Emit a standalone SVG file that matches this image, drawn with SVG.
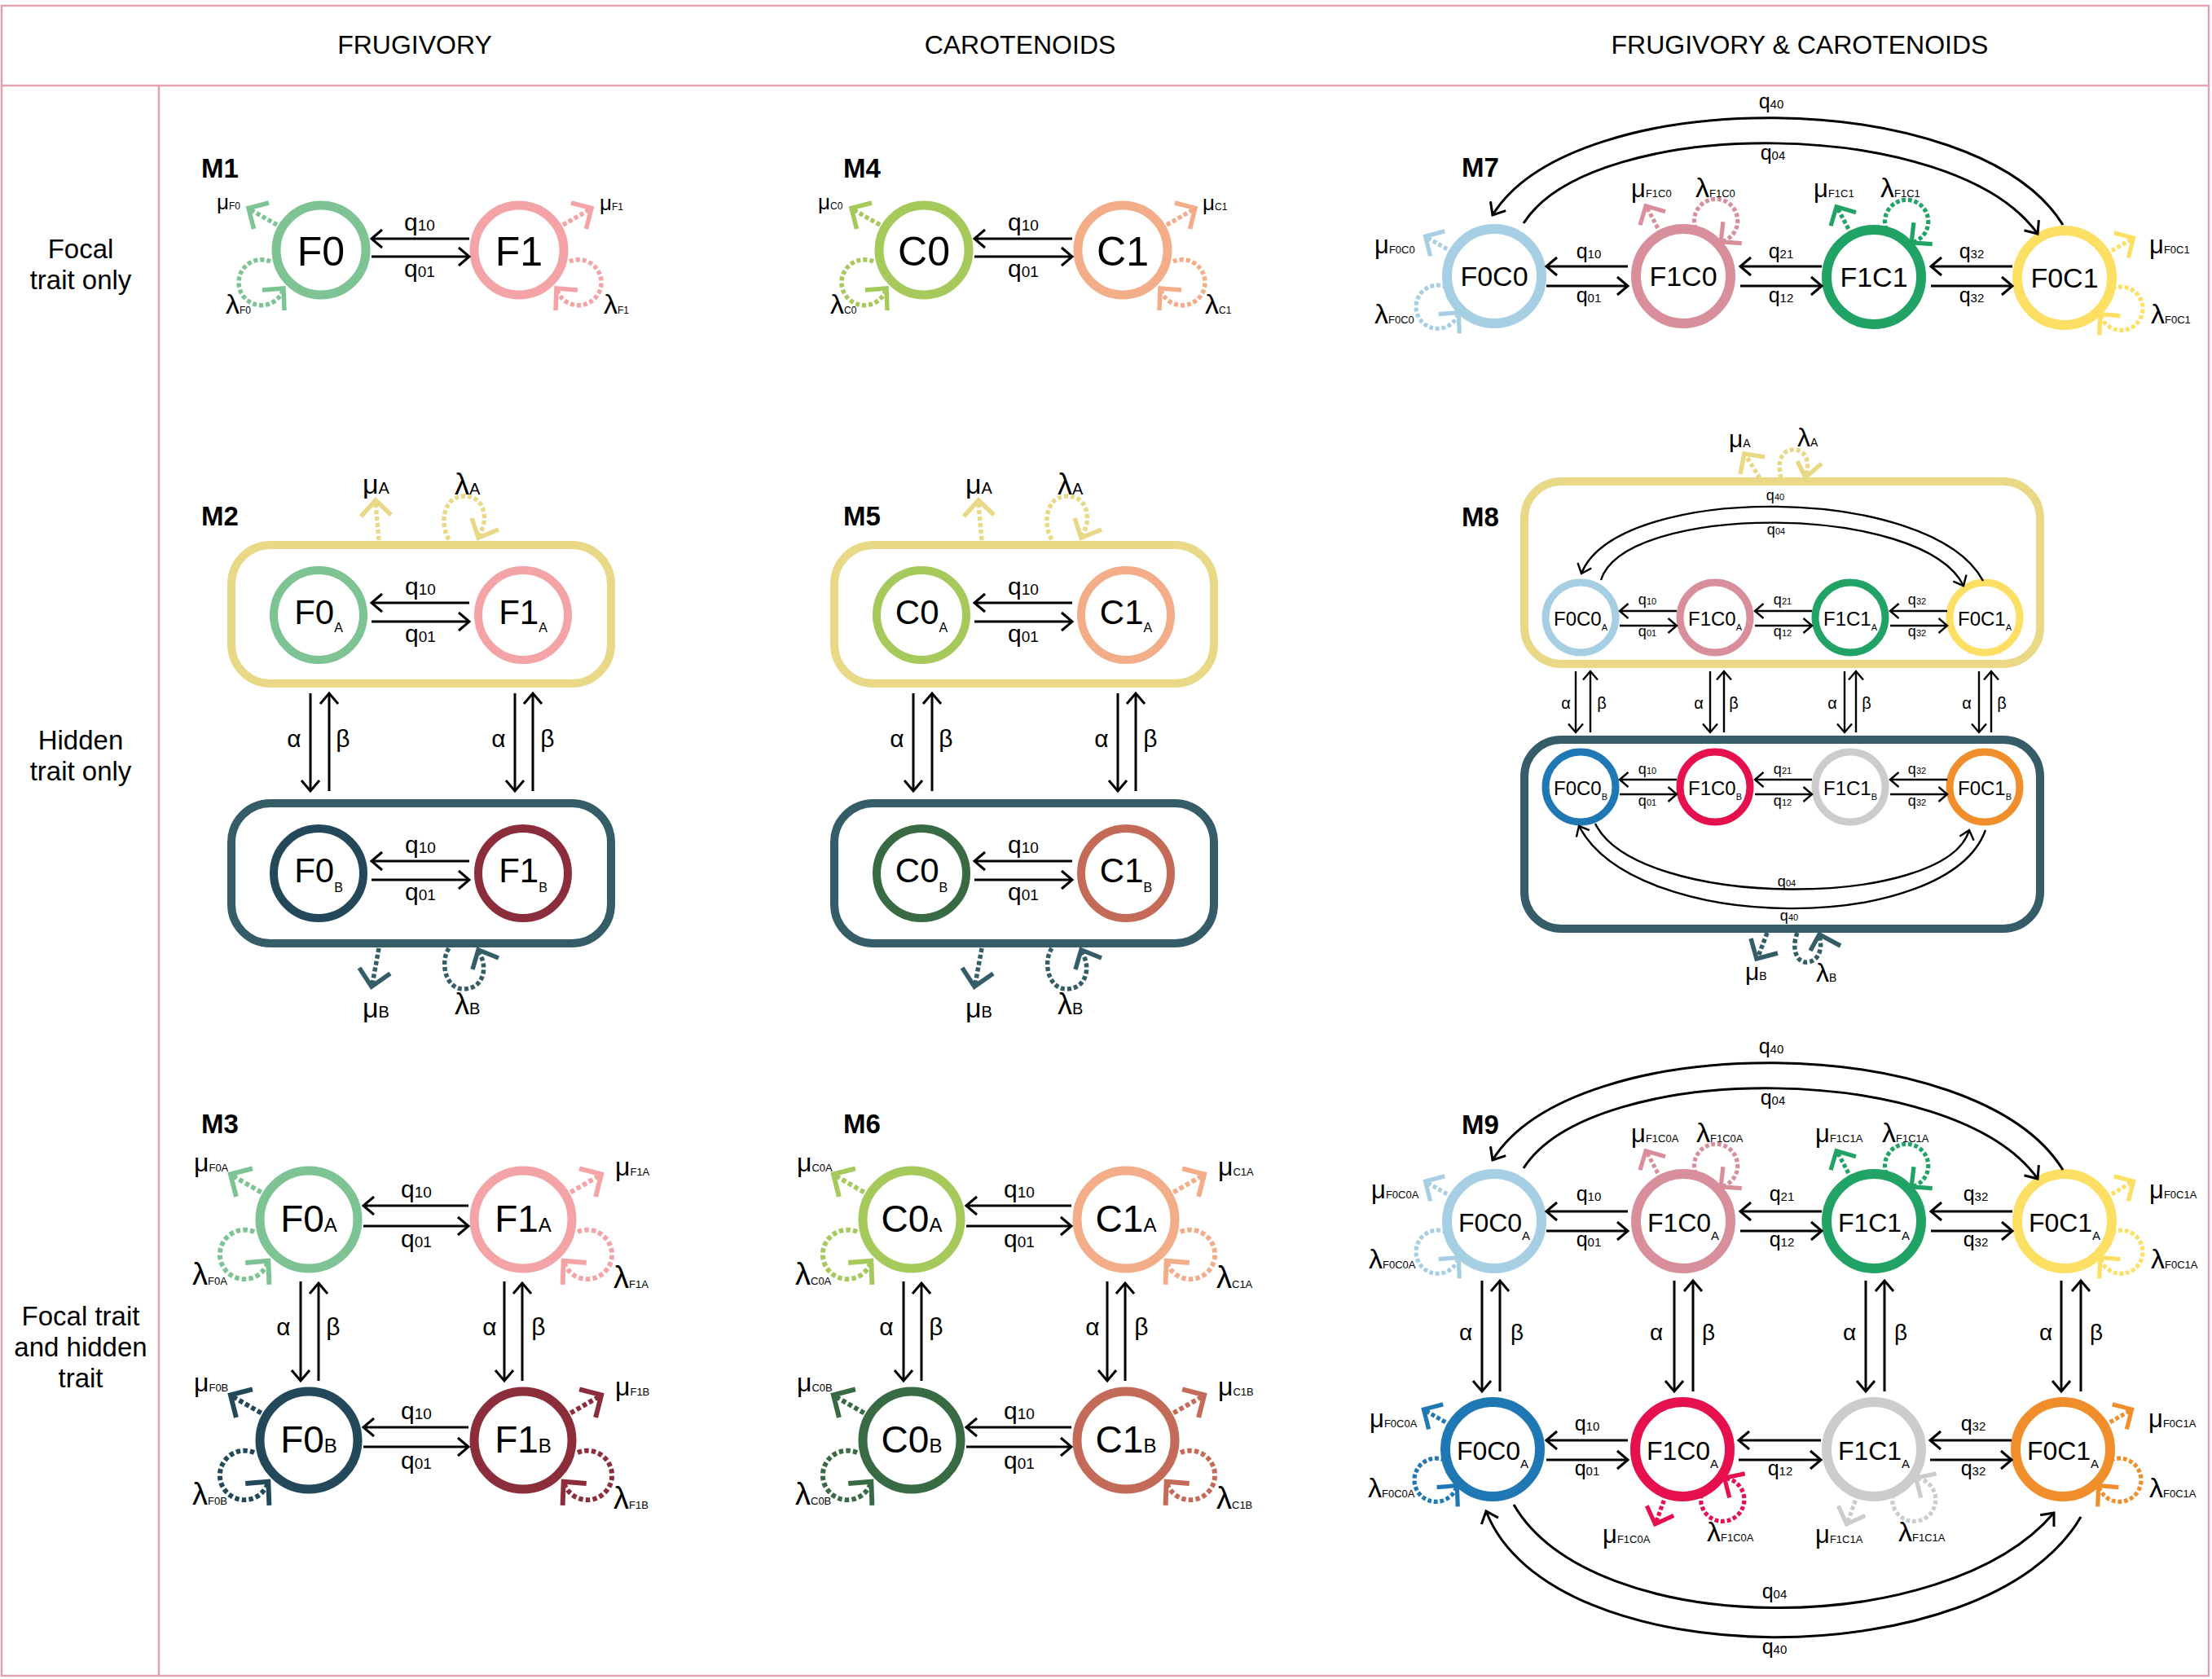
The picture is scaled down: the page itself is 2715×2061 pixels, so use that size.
<svg xmlns="http://www.w3.org/2000/svg" width="2715" height="2061" viewBox="0 0 2715 2061">
<style>
text{font-family:"Liberation Sans",Arial,sans-serif;fill:#000}
.hdr{font-size:32px;text-anchor:middle}
.row{font-size:33px;text-anchor:middle}
.ml{font-size:33px;font-weight:bold}
.frame{fill:none;stroke:#e3a0ae;stroke-width:2.5}
.nd{fill:#fff}
.ar{fill:none;stroke:#000;stroke-width:3;marker-end:url(#ah)}
.arS{fill:none;stroke:#000;stroke-width:2.4;marker-end:url(#ahS)}
.dsh{fill:none;stroke-width:5.5;stroke-dasharray:5 3}
.chv{fill:none;stroke-width:5.5}
.q{font-size:30px;text-anchor:middle}.qs{font-size:19px}
.q7{font-size:25px;text-anchor:middle}.qs7{font-size:15px}
.q8{font-size:18px;text-anchor:middle}.qs8{font-size:11px}
.ab{font-size:30px;text-anchor:middle}
.ab9{font-size:28px;text-anchor:middle}
.ab8{font-size:20px;text-anchor:middle}
.n1{font-size:50px;text-anchor:middle}
.n2{font-size:42px;text-anchor:middle}.sb2{font-size:16px}
.n3{font-size:46px;text-anchor:middle}.sb3{font-size:24px}
.n7{font-size:34px;text-anchor:middle}
.n9{font-size:32px;text-anchor:middle}.sb9{font-size:15px}
.n8{font-size:24px;text-anchor:middle}.sb8{font-size:11px}
.mu1{font-size:26px}.la1{font-size:34px}.s1{font-size:12px}
.mu3{font-size:32px}.la3{font-size:38px}.s3{font-size:13px}
.mu7{font-size:31px}.la7{font-size:34px}.s7{font-size:13px}
.mu2{font-size:34px}.la2{font-size:36px}.s2{font-size:20px}
.mu8{font-size:30px}.la8{font-size:32px}.s8{font-size:14px}
</style>
<defs>
<marker id="ah" viewBox="0 0 20 24" refX="18" refY="12" markerWidth="20" markerHeight="24" markerUnits="userSpaceOnUse" orient="auto" overflow="visible"><path d="M5,1 L18,12 L5,23" fill="none" stroke="#000" stroke-width="3"/></marker>
<marker id="ahS" viewBox="0 0 14 20" refX="12.5" refY="10" markerWidth="14" markerHeight="20" markerUnits="userSpaceOnUse" orient="auto" overflow="visible"><path d="M2,1 L12.5,10 L2,19" fill="none" stroke="#000" stroke-width="2.4"/></marker>
<g id="decoR" fill="none" stroke="currentColor" stroke-width="5.5">
<path d="M54,-31 L87,-50" stroke-dasharray="5 3"/>
<path d="M64,-58 L89,-51.5 L82.5,-26"/>
<path d="M62,14 A28,28 0 1 1 46,47" stroke-dasharray="5 3"/>
<path d="M72,49 L46,47 L45,74"/>
</g>
</defs>

<g id="frame">
<rect x="2" y="7" width="2709" height="2050" class="frame"/>
<line x1="2" y1="105" x2="2711" y2="105" class="frame"/>
<line x1="195" y1="105" x2="195" y2="2057" class="frame"/>
</g>

<g id="headers">
<text class="hdr" x="509" y="66">FRUGIVORY</text>
<text class="hdr" x="1252" y="66">CAROTENOIDS</text>
<text class="hdr" x="2209" y="66">FRUGIVORY &amp; CAROTENOIDS</text>
<text class="row" x="99" y="317">Focal</text>
<text class="row" x="99" y="355">trait only</text>
<text class="row" x="99" y="920">Hidden</text>
<text class="row" x="99" y="958">trait only</text>
<text class="row" x="99" y="1627">Focal trait</text>
<text class="row" x="99" y="1665">and hidden</text>
<text class="row" x="99" y="1703">trait</text>
</g>

<g id="model-labels">
<text class="ml" x="247" y="218">M1</text>
<text class="ml" x="1035" y="218">M4</text>
<text class="ml" x="1794" y="217">M7</text>
<text class="ml" x="247" y="645">M2</text>
<text class="ml" x="1035" y="645">M5</text>
<text class="ml" x="1794" y="646">M8</text>
<text class="ml" x="247" y="1391">M3</text>
<text class="ml" x="1035" y="1391">M6</text>
<text class="ml" x="1794" y="1392">M9</text>
</g>

<!-- M1 -->
<g id="m1-F0" transform="translate(394,307)">
<use href="#decoR" transform="scale(-1,1)" color="#7dc393"/>
<circle r="55" class="nd" stroke="#7dc393" stroke-width="11"/>
<text y="19" class="n1">F0</text>
<text x="-128" y="-50" class="mu1">μ<tspan class="s1">F0</tspan></text>
<text x="-117" y="78" class="la1">λ<tspan class="s1">F0</tspan></text>
</g>
<g id="m1-F1" transform="translate(637,307)">
<use href="#decoR" color="#f4a3a6"/>
<circle r="55" class="nd" stroke="#f4a3a6" stroke-width="11"/>
<text y="19" class="n1">F1</text>
<text x="99" y="-49" class="mu1">μ<tspan class="s1">F1</tspan></text>
<text x="104" y="78" class="la1">λ<tspan class="s1">F1</tspan></text>
</g>

<!-- M4 -->
<g id="m4-C0" transform="translate(1134,307)">
<use href="#decoR" transform="scale(-1,1)" color="#a5c95a"/>
<circle r="55" class="nd" stroke="#a5c95a" stroke-width="11"/>
<text y="19" class="n1">C0</text>
<text x="-130" y="-50" class="mu1">μ<tspan class="s1">C0</tspan></text>
<text x="-115" y="78" class="la1">λ<tspan class="s1">C0</tspan></text>
</g>
<g id="m4-C1" transform="translate(1378,307)">
<use href="#decoR" color="#f3ad88"/>
<circle r="55" class="nd" stroke="#f3ad88" stroke-width="11"/>
<text y="19" class="n1">C1</text>
<text x="98" y="-49" class="mu1">μ<tspan class="s1">C1</tspan></text>
<text x="101" y="78" class="la1">λ<tspan class="s1">C1</tspan></text>
</g>

<!-- M2 -->
<g id="m2-hiddenA">
<rect x="284" y="669" width="466" height="170" rx="48" fill="none" stroke="#e9d886" stroke-width="10"/>
<path class="dsh" stroke="#e9d886" d="M465,663 L461,618"/>
<path class="chv" stroke="#e9d886" d="M443,634 L461,614 L480,632"/>
<path class="dsh" stroke="#e9d886" d="M551,662 C541,648 541,610 569,609 C597,608 600,642 587,658"/>
<path class="chv" stroke="#e9d886" d="M579,636 L587,660 L612,650"/>
<text x="445" y="606" class="mu2">μ<tspan class="s2">A</tspan></text>
<text x="558" y="607" class="la2">λ<tspan class="s2">A</tspan></text>
</g>
<g id="m2-hiddenB">
<rect x="284" y="986" width="466" height="172" rx="48" fill="none" stroke="#355d68" stroke-width="10"/>
<path class="dsh" stroke="#355d68" d="M465,1164 L457,1208"/>
<path class="chv" stroke="#355d68" d="M441,1188 L456,1211 L479,1195"/>
<path class="dsh" stroke="#355d68" d="M551,1164 C540,1180 546,1214 569,1214 C594,1214 600,1186 587,1168"/>
<path class="chv" stroke="#355d68" d="M580,1190 L587,1166 L612,1176"/>
<text x="445" y="1249" class="mu2">μ<tspan class="s2">B</tspan></text>
<text x="558" y="1245" class="la2">λ<tspan class="s2">B</tspan></text>
</g>
<g id="m2-F0A" transform="translate(391,755)">
<circle r="55" class="nd" stroke="#7dc393" stroke-width="10"/>
<text y="11" class="n2">F0<tspan class="sb2" dy="10">A</tspan></text>
</g>
<g id="m2-F1A" transform="translate(642,755)">
<circle r="55" class="nd" stroke="#f4a3a6" stroke-width="10"/>
<text y="11" class="n2">F1<tspan class="sb2" dy="10">A</tspan></text>
</g>
<g id="m2-F0B" transform="translate(391,1072)">
<circle r="55" class="nd" stroke="#23485a" stroke-width="10"/>
<text y="11" class="n2">F0<tspan class="sb2" dy="12">B</tspan></text>
</g>
<g id="m2-F1B" transform="translate(642,1072)">
<circle r="55" class="nd" stroke="#8c2d3b" stroke-width="10"/>
<text y="11" class="n2">F1<tspan class="sb2" dy="12">B</tspan></text>
</g>

<!-- M5 -->
<g id="m5-hiddenA">
<rect x="1024" y="669" width="466" height="170" rx="48" fill="none" stroke="#e9d886" stroke-width="10"/>
<path class="dsh" stroke="#e9d886" d="M1205,663 L1201,618"/>
<path class="chv" stroke="#e9d886" d="M1183,634 L1201,614 L1220,632"/>
<path class="dsh" stroke="#e9d886" d="M1291,662 C1281,648 1281,610 1309,609 C1337,608 1340,642 1327,658"/>
<path class="chv" stroke="#e9d886" d="M1319,636 L1327,660 L1352,650"/>
<text x="1185" y="606" class="mu2">μ<tspan class="s2">A</tspan></text>
<text x="1298" y="607" class="la2">λ<tspan class="s2">A</tspan></text>
</g>
<g id="m5-hiddenB">
<rect x="1024" y="986" width="466" height="172" rx="48" fill="none" stroke="#355d68" stroke-width="10"/>
<path class="dsh" stroke="#355d68" d="M1205,1164 L1197,1208"/>
<path class="chv" stroke="#355d68" d="M1181,1188 L1196,1211 L1219,1195"/>
<path class="dsh" stroke="#355d68" d="M1291,1164 C1280,1180 1286,1214 1309,1214 C1334,1214 1340,1186 1327,1168"/>
<path class="chv" stroke="#355d68" d="M1320,1190 L1327,1166 L1352,1176"/>
<text x="1185" y="1249" class="mu2">μ<tspan class="s2">B</tspan></text>
<text x="1298" y="1245" class="la2">λ<tspan class="s2">B</tspan></text>
</g>
<g id="m5-C0A" transform="translate(1131,755)">
<circle r="55" class="nd" stroke="#a5c95a" stroke-width="10"/>
<text y="11" class="n2">C0<tspan class="sb2" dy="10">A</tspan></text>
</g>
<g id="m5-C1A" transform="translate(1382,755)">
<circle r="55" class="nd" stroke="#f3ad88" stroke-width="10"/>
<text y="11" class="n2">C1<tspan class="sb2" dy="10">A</tspan></text>
</g>
<g id="m5-C0B" transform="translate(1131,1072)">
<circle r="55" class="nd" stroke="#386a43" stroke-width="10"/>
<text y="11" class="n2">C0<tspan class="sb2" dy="12">B</tspan></text>
</g>
<g id="m5-C1B" transform="translate(1382,1072)">
<circle r="55" class="nd" stroke="#c46a58" stroke-width="10"/>
<text y="11" class="n2">C1<tspan class="sb2" dy="12">B</tspan></text>
</g>

<!-- M3 -->
<g id="m3-F0A" transform="translate(379,1497)">
<use href="#decoR" transform="scale(-1.08,1.08)" color="#7dc393"/>
<circle r="60" class="nd" stroke="#7dc393" stroke-width="11"/>
<text y="15" class="n3">F0<tspan class="sb3">A</tspan></text>
<text x="-141" y="-59" class="mu3">μ<tspan class="s3">F0A</tspan></text>
<text x="-143" y="80" class="la3">λ<tspan class="s3">F0A</tspan></text>
</g>
<g id="m3-F1A" transform="translate(642,1497)">
<use href="#decoR" transform="scale(1.08)" color="#f4a3a6"/>
<circle r="60" class="nd" stroke="#f4a3a6" stroke-width="11"/>
<text y="15" class="n3">F1<tspan class="sb3">A</tspan></text>
<text x="113" y="-54" class="mu3">μ<tspan class="s3">F1A</tspan></text>
<text x="111" y="84" class="la3">λ<tspan class="s3">F1A</tspan></text>
</g>
<g id="m3-F0B" transform="translate(379,1768)">
<use href="#decoR" transform="scale(-1.08,1.08)" color="#23485a"/>
<circle r="60" class="nd" stroke="#23485a" stroke-width="11"/>
<text y="15" class="n3">F0<tspan class="sb3">B</tspan></text>
<text x="-141" y="-60" class="mu3">μ<tspan class="s3">F0B</tspan></text>
<text x="-143" y="79" class="la3">λ<tspan class="s3">F0B</tspan></text>
</g>
<g id="m3-F1B" transform="translate(642,1768)">
<use href="#decoR" transform="scale(1.08)" color="#8c2d3b"/>
<circle r="60" class="nd" stroke="#8c2d3b" stroke-width="11"/>
<text y="15" class="n3">F1<tspan class="sb3">B</tspan></text>
<text x="113" y="-55" class="mu3">μ<tspan class="s3">F1B</tspan></text>
<text x="111" y="84" class="la3">λ<tspan class="s3">F1B</tspan></text>
</g>

<!-- M6 -->
<g id="m6-C0A" transform="translate(1119,1497)">
<use href="#decoR" transform="scale(-1.08,1.08)" color="#a5c95a"/>
<circle r="60" class="nd" stroke="#a5c95a" stroke-width="11"/>
<text y="15" class="n3">C0<tspan class="sb3">A</tspan></text>
<text x="-141" y="-59" class="mu3">μ<tspan class="s3">C0A</tspan></text>
<text x="-143" y="80" class="la3">λ<tspan class="s3">C0A</tspan></text>
</g>
<g id="m6-C1A" transform="translate(1382,1497)">
<use href="#decoR" transform="scale(1.08)" color="#f3ad88"/>
<circle r="60" class="nd" stroke="#f3ad88" stroke-width="11"/>
<text y="15" class="n3">C1<tspan class="sb3">A</tspan></text>
<text x="113" y="-54" class="mu3">μ<tspan class="s3">C1A</tspan></text>
<text x="111" y="84" class="la3">λ<tspan class="s3">C1A</tspan></text>
</g>
<g id="m6-C0B" transform="translate(1119,1768)">
<use href="#decoR" transform="scale(-1.08,1.08)" color="#386a43"/>
<circle r="60" class="nd" stroke="#386a43" stroke-width="11"/>
<text y="15" class="n3">C0<tspan class="sb3">B</tspan></text>
<text x="-141" y="-60" class="mu3">μ<tspan class="s3">C0B</tspan></text>
<text x="-143" y="79" class="la3">λ<tspan class="s3">C0B</tspan></text>
</g>
<g id="m6-C1B" transform="translate(1382,1768)">
<use href="#decoR" transform="scale(1.08)" color="#c46a58"/>
<circle r="60" class="nd" stroke="#c46a58" stroke-width="11"/>
<text y="15" class="n3">C1<tspan class="sb3">B</tspan></text>
<text x="113" y="-55" class="mu3">μ<tspan class="s3">C1B</tspan></text>
<text x="111" y="84" class="la3">λ<tspan class="s3">C1B</tspan></text>
</g>

<!-- M7 -->
<g id="m7-F0C0" transform="translate(1834,339)">
<use href="#decoR" transform="scale(-0.95,0.95)" color="#a6cfe3"/>
<circle r="58" class="nd" stroke="#a6cfe3" stroke-width="12"/>
<text y="12" class="n7">F0C0</text>
<text x="-147" y="-28" class="mu7">μ<tspan class="s7">F0C0</tspan></text>
<text x="-147" y="58" class="la7">λ<tspan class="s7">F0C0</tspan></text>
</g>
<g id="m7-F1C0" transform="translate(2066,339)">
<use href="#decoR" transform="rotate(-88) scale(0.95)" color="#d98f9b"/>
<circle r="58" class="nd" stroke="#d98f9b" stroke-width="12"/>
<text y="12" class="n7">F1C0</text>
<text x="-64" y="-97" class="mu7">μ<tspan class="s7">F1C0</tspan></text>
<text x="15" y="-97" class="la7">λ<tspan class="s7">F1C0</tspan></text>
</g>
<g id="m7-F1C1" transform="translate(2300,340)">
<use href="#decoR" transform="rotate(-88) scale(0.95)" color="#21a366"/>
<circle r="58" class="nd" stroke="#21a366" stroke-width="12"/>
<text y="12" class="n7">F1C1</text>
<text x="-74" y="-98" class="mu7">μ<tspan class="s7">F1C1</tspan></text>
<text x="8" y="-98" class="la7">λ<tspan class="s7">F1C1</tspan></text>
</g>
<g id="m7-F0C1" transform="translate(2534,341)">
<use href="#decoR" transform="scale(0.95)" color="#fddf64"/>
<circle r="58" class="nd" stroke="#fddf64" stroke-width="12"/>
<text y="12" class="n7">F0C1</text>
<text x="104" y="-30" class="mu7">μ<tspan class="s7">F0C1</tspan></text>
<text x="106" y="56" class="la7">λ<tspan class="s7">F0C1</tspan></text>
</g>

<!-- M8 -->
<g id="m8-hiddenA">
<rect x="1871" y="591" width="633" height="224" rx="45" fill="none" stroke="#e9d886" stroke-width="10"/>
<path class="dsh" stroke="#e9d886" stroke-width="5" d="M2160,587 L2144,561"/>
<path class="chv" stroke="#e9d886" stroke-width="5" d="M2166,561 L2141,557 L2136,582"/>
<path class="dsh" stroke="#e9d886" stroke-width="5" d="M2186,587 C2180,562 2190,551 2203,552 C2218,553 2222,570 2216,584"/>
<path class="chv" stroke="#e9d886" stroke-width="5" d="M2206,566 L2216,586 L2236,569"/>
<text x="2122" y="549" class="mu8">μ<tspan class="s8">A</tspan></text>
<text x="2206" y="548" class="la8">λ<tspan class="s8">A</tspan></text>
</g>
<g id="m8-hiddenB">
<rect x="1871" y="908" width="633" height="232" rx="45" fill="none" stroke="#355d68" stroke-width="10"/>
<path class="dsh" stroke="#355d68" stroke-width="5" d="M2169,1145 L2158,1174"/>
<path class="chv" stroke="#355d68" stroke-width="5" d="M2149,1152 L2156,1177 L2182,1170"/>
<path class="dsh" stroke="#355d68" stroke-width="5" d="M2206,1145 C2198,1165 2206,1184 2220,1181 C2234,1178 2237,1162 2233,1149"/>
<path class="chv" stroke="#355d68" stroke-width="5" d="M2222,1167 L2233,1147 L2259,1161"/>
<text x="2142" y="1203" class="mu8">μ<tspan class="s8">B</tspan></text>
<text x="2229" y="1205" class="la8">λ<tspan class="s8">B</tspan></text>
</g>
<g id="m8-F0C0A" transform="translate(1940,758)"><circle r="43" class="nd" stroke="#a6cfe3" stroke-width="9"/><text y="10" class="n8">F0C0<tspan class="sb8" dy="6">A</tspan></text></g>
<g id="m8-F1C0A" transform="translate(2105,758)"><circle r="43" class="nd" stroke="#d98f9b" stroke-width="9"/><text y="10" class="n8">F1C0<tspan class="sb8" dy="6">A</tspan></text></g>
<g id="m8-F1C1A" transform="translate(2271,758)"><circle r="43" class="nd" stroke="#21a366" stroke-width="9"/><text y="10" class="n8">F1C1<tspan class="sb8" dy="6">A</tspan></text></g>
<g id="m8-F0C1A" transform="translate(2436,758)"><circle r="43" class="nd" stroke="#fddf64" stroke-width="9"/><text y="10" class="n8">F0C1<tspan class="sb8" dy="6">A</tspan></text></g>
<g id="m8-F0C0B" transform="translate(1940,966)"><circle r="43" class="nd" stroke="#1f77b4" stroke-width="9"/><text y="10" class="n8">F0C0<tspan class="sb8" dy="6">B</tspan></text></g>
<g id="m8-F1C0B" transform="translate(2105,966)"><circle r="43" class="nd" stroke="#e5104d" stroke-width="9"/><text y="10" class="n8">F1C0<tspan class="sb8" dy="6">B</tspan></text></g>
<g id="m8-F1C1B" transform="translate(2271,966)"><circle r="43" class="nd" stroke="#cccccc" stroke-width="9"/><text y="10" class="n8">F1C1<tspan class="sb8" dy="6">B</tspan></text></g>
<g id="m8-F0C1B" transform="translate(2436,966)"><circle r="43" class="nd" stroke="#f18e2c" stroke-width="9"/><text y="10" class="n8">F0C1<tspan class="sb8" dy="6">B</tspan></text></g>

<!-- M9 -->
<g id="m9-F0C0A-top" transform="translate(1834,1499)">
<use href="#decoR" transform="scale(-0.95,0.95)" color="#a6cfe3"/>
<circle r="58" class="nd" stroke="#a6cfe3" stroke-width="12"/>
<text y="13" class="n9">F0C0<tspan class="sb9" dy="10">A</tspan></text>
<text x="-151" y="-28" class="mu7">μ<tspan class="s7">F0C0A</tspan></text>
<text x="-154" y="58" class="la7">λ<tspan class="s7">F0C0A</tspan></text>
</g>
<g id="m9-F1C0A-top" transform="translate(2066,1499)">
<use href="#decoR" transform="rotate(-88) scale(0.95)" color="#d98f9b"/>
<circle r="58" class="nd" stroke="#d98f9b" stroke-width="12"/>
<text y="13" class="n9">F1C0<tspan class="sb9" dy="10">A</tspan></text>
<text x="-64" y="-97" class="mu7">μ<tspan class="s7">F1C0A</tspan></text>
<text x="16" y="-97" class="la7">λ<tspan class="s7">F1C0A</tspan></text>
</g>
<g id="m9-F1C1A-top" transform="translate(2300,1499)">
<use href="#decoR" transform="rotate(-88) scale(0.95)" color="#21a366"/>
<circle r="58" class="nd" stroke="#21a366" stroke-width="12"/>
<text y="13" class="n9">F1C1<tspan class="sb9" dy="10">A</tspan></text>
<text x="-72" y="-97" class="mu7">μ<tspan class="s7">F1C1A</tspan></text>
<text x="10" y="-97" class="la7">λ<tspan class="s7">F1C1A</tspan></text>
</g>
<g id="m9-F0C1A-top" transform="translate(2534,1499)">
<use href="#decoR" transform="scale(0.95)" color="#fddf64"/>
<circle r="58" class="nd" stroke="#fddf64" stroke-width="12"/>
<text y="13" class="n9">F0C1<tspan class="sb9" dy="10">A</tspan></text>
<text x="104" y="-28" class="mu7">μ<tspan class="s7">F0C1A</tspan></text>
<text x="106" y="58" class="la7">λ<tspan class="s7">F0C1A</tspan></text>
</g>
<g id="m9-F0C0A-bottom" transform="translate(1832,1779)">
<use href="#decoR" transform="scale(-0.95,0.95)" color="#1f77b4"/>
<circle r="58" class="nd" stroke="#1f77b4" stroke-width="12"/>
<text y="13" class="n9">F0C0<tspan class="sb9" dy="10">A</tspan></text>
<text x="-151" y="-27" class="mu7">μ<tspan class="s7">F0C0A</tspan></text>
<text x="-153" y="59" class="la7">λ<tspan class="s7">F0C0A</tspan></text>
</g>
<g id="m9-F1C0A-bottom" transform="translate(2065,1779)">
<use href="#decoR" transform="rotate(-100) scale(-0.95,0.95)" color="#e5104d"/>
<circle r="58" class="nd" stroke="#e5104d" stroke-width="12"/>
<text y="13" class="n9">F1C0<tspan class="sb9" dy="10">A</tspan></text>
<text x="-98" y="115" class="mu7">μ<tspan class="s7">F1C0A</tspan></text>
<text x="30" y="113" class="la7">λ<tspan class="s7">F1C0A</tspan></text>
</g>
<g id="m9-F1C1A-bottom" transform="translate(2300,1779)">
<use href="#decoR" transform="rotate(-100) scale(-0.95,0.95)" color="#cccccc"/>
<circle r="58" class="nd" stroke="#cccccc" stroke-width="12"/>
<text y="13" class="n9">F1C1<tspan class="sb9" dy="10">A</tspan></text>
<text x="-72" y="115" class="mu7">μ<tspan class="s7">F1C1A</tspan></text>
<text x="30" y="113" class="la7">λ<tspan class="s7">F1C1A</tspan></text>
</g>
<g id="m9-F0C1A-bottom" transform="translate(2532,1779)">
<use href="#decoR" transform="scale(0.95)" color="#f18e2c"/>
<circle r="58" class="nd" stroke="#f18e2c" stroke-width="12"/>
<text y="13" class="n9">F0C1<tspan class="sb9" dy="10">A</tspan></text>
<text x="105" y="-27" class="mu7">μ<tspan class="s7">F0C1A</tspan></text>
<text x="106" y="59" class="la7">λ<tspan class="s7">F0C1A</tspan></text>
</g>

<g id="connectors">
<!-- M1 -->
<path class="ar" d="M576,293 H456"/><path class="ar" d="M456,315 H576"/>
<text class="q" x="515" y="283">q<tspan class="qs">10</tspan></text>
<text class="q" x="515" y="340">q<tspan class="qs">01</tspan></text>
<!-- M4 -->
<path class="ar" d="M1316,293 H1196"/><path class="ar" d="M1196,315 H1316"/>
<text class="q" x="1256" y="283">q<tspan class="qs">10</tspan></text>
<text class="q" x="1256" y="340">q<tspan class="qs">01</tspan></text>
<!-- M2 -->
<path class="ar" d="M576,740 H456"/><path class="ar" d="M456,763 H576"/>
<text class="q" x="516" y="730">q<tspan class="qs">10</tspan></text>
<text class="q" x="516" y="788">q<tspan class="qs">01</tspan></text>
<path class="ar" d="M576,1057 H456"/><path class="ar" d="M456,1080 H576"/>
<text class="q" x="516" y="1047">q<tspan class="qs">10</tspan></text>
<text class="q" x="516" y="1105">q<tspan class="qs">01</tspan></text>
<path class="ar" d="M381,851 V971"/><path class="ar" d="M404,971 V851"/>
<path class="ar" d="M632,851 V971"/><path class="ar" d="M654,971 V851"/>
<text class="ab" x="361" y="917">α</text><text class="ab" x="421" y="917">β</text>
<text class="ab" x="612" y="917">α</text><text class="ab" x="672" y="917">β</text>
<!-- M5 -->
<path class="ar" d="M1316,740 H1196"/><path class="ar" d="M1196,763 H1316"/>
<text class="q" x="1256" y="730">q<tspan class="qs">10</tspan></text>
<text class="q" x="1256" y="788">q<tspan class="qs">01</tspan></text>
<path class="ar" d="M1316,1057 H1196"/><path class="ar" d="M1196,1080 H1316"/>
<text class="q" x="1256" y="1047">q<tspan class="qs">10</tspan></text>
<text class="q" x="1256" y="1105">q<tspan class="qs">01</tspan></text>
<path class="ar" d="M1121,851 V971"/><path class="ar" d="M1144,971 V851"/>
<path class="ar" d="M1372,851 V971"/><path class="ar" d="M1394,971 V851"/>
<text class="ab" x="1101" y="917">α</text><text class="ab" x="1161" y="917">β</text>
<text class="ab" x="1352" y="917">α</text><text class="ab" x="1412" y="917">β</text>
<!-- M3 -->
<path class="ar" d="M575,1480 H446"/><path class="ar" d="M446,1505 H575"/>
<text class="q" x="511" y="1470">q<tspan class="qs">10</tspan></text>
<text class="q" x="511" y="1531">q<tspan class="qs">01</tspan></text>
<path class="ar" d="M575,1752 H446"/><path class="ar" d="M446,1776 H575"/>
<text class="q" x="511" y="1742">q<tspan class="qs">10</tspan></text>
<text class="q" x="511" y="1803">q<tspan class="qs">01</tspan></text>
<path class="ar" d="M369,1573 V1695"/><path class="ar" d="M391,1695 V1575"/>
<path class="ar" d="M619,1573 V1695"/><path class="ar" d="M641,1695 V1575"/>
<text class="ab" x="348" y="1639">α</text><text class="ab" x="409" y="1639">β</text>
<text class="ab" x="601" y="1639">α</text><text class="ab" x="661" y="1639">β</text>
<!-- M6 -->
<path class="ar" d="M1315,1480 H1186"/><path class="ar" d="M1186,1505 H1315"/>
<text class="q" x="1251" y="1470">q<tspan class="qs">10</tspan></text>
<text class="q" x="1251" y="1531">q<tspan class="qs">01</tspan></text>
<path class="ar" d="M1315,1752 H1186"/><path class="ar" d="M1186,1776 H1315"/>
<text class="q" x="1251" y="1742">q<tspan class="qs">10</tspan></text>
<text class="q" x="1251" y="1803">q<tspan class="qs">01</tspan></text>
<path class="ar" d="M1109,1573 V1695"/><path class="ar" d="M1131,1695 V1575"/>
<path class="ar" d="M1359,1573 V1695"/><path class="ar" d="M1381,1695 V1575"/>
<text class="ab" x="1088" y="1639">α</text><text class="ab" x="1149" y="1639">β</text>
<text class="ab" x="1341" y="1639">α</text><text class="ab" x="1401" y="1639">β</text>
<!-- M7 -->
<path class="ar" d="M1998,327 H1898"/><path class="ar" d="M1898,351 H1998"/>
<path class="ar" d="M2236,327 H2136"/><path class="ar" d="M2136,351 H2236"/>
<path class="ar" d="M2470,327 H2370"/><path class="ar" d="M2370,351 H2470"/>
<text class="q7" x="1950" y="317">q<tspan class="qs7">10</tspan></text>
<text class="q7" x="1950" y="371">q<tspan class="qs7">01</tspan></text>
<text class="q7" x="2186" y="317">q<tspan class="qs7">21</tspan></text>
<text class="q7" x="2186" y="371">q<tspan class="qs7">12</tspan></text>
<text class="q7" x="2420" y="317">q<tspan class="qs7">32</tspan></text>
<text class="q7" x="2420" y="371">q<tspan class="qs7">32</tspan></text>
<path class="ar" d="M2532,276 C2425,103 1931,103 1832,264"/>
<path class="ar" d="M1870,274 C1955,141 2397,141 2501,287"/>
<text class="q7" x="2174" y="133">q<tspan class="qs7">40</tspan></text>
<text class="q7" x="2176" y="196">q<tspan class="qs7">04</tspan></text>
<!-- M8 -->
<path class="arS" d="M2058,750 H1988"/><path class="arS" d="M1988,768 H2058"/>
<path class="arS" d="M2224,750 H2154"/><path class="arS" d="M2154,768 H2224"/>
<path class="arS" d="M2390,750 H2320"/><path class="arS" d="M2320,768 H2390"/>
<text class="q8" x="2022" y="742">q<tspan class="qs8">10</tspan></text>
<text class="q8" x="2022" y="781">q<tspan class="qs8">01</tspan></text>
<text class="q8" x="2188" y="742">q<tspan class="qs8">21</tspan></text>
<text class="q8" x="2188" y="781">q<tspan class="qs8">12</tspan></text>
<text class="q8" x="2353" y="742">q<tspan class="qs8">32</tspan></text>
<text class="q8" x="2353" y="781">q<tspan class="qs8">32</tspan></text>
<path class="arS" d="M2058,957 H1988"/><path class="arS" d="M1988,975 H2058"/>
<path class="arS" d="M2224,957 H2154"/><path class="arS" d="M2154,975 H2224"/>
<path class="arS" d="M2390,957 H2320"/><path class="arS" d="M2320,975 H2390"/>
<text class="q8" x="2022" y="950">q<tspan class="qs8">10</tspan></text>
<text class="q8" x="2022" y="989">q<tspan class="qs8">01</tspan></text>
<text class="q8" x="2188" y="950">q<tspan class="qs8">21</tspan></text>
<text class="q8" x="2188" y="989">q<tspan class="qs8">12</tspan></text>
<text class="q8" x="2353" y="950">q<tspan class="qs8">32</tspan></text>
<text class="q8" x="2353" y="989">q<tspan class="qs8">32</tspan></text>
<path class="arS" d="M2434,713 C2370,593 1985,593 1941,704"/>
<path class="arS" d="M1965,712 C1995,617 2360,617 2410,719"/>
<text class="q8" x="2179" y="614">q<tspan class="qs8">40</tspan></text>
<text class="q8" x="2180" y="656">q<tspan class="qs8">04</tspan></text>
<path class="arS" d="M1958,1011 C2010,1117 2388,1117 2417,1019"/>
<path class="arS" d="M2437,1019 C2390,1148 2008,1148 1938,1014"/>
<text class="q8" x="2193" y="1088">q<tspan class="qs8">04</tspan></text>
<text class="q8" x="2196" y="1130">q<tspan class="qs8">40</tspan></text>
<path class="arS" d="M1934,824 V899"/><path class="arS" d="M1952,899 V824"/>
<path class="arS" d="M2099,824 V899"/><path class="arS" d="M2116,899 V824"/>
<path class="arS" d="M2264,824 V899"/><path class="arS" d="M2278,899 V824"/>
<path class="arS" d="M2429,824 V899"/><path class="arS" d="M2444,899 V824"/>
<text class="ab8" x="1922" y="870">α</text><text class="ab8" x="1966" y="870">β</text>
<text class="ab8" x="2085" y="870">α</text><text class="ab8" x="2128" y="870">β</text>
<text class="ab8" x="2249" y="870">α</text><text class="ab8" x="2291" y="870">β</text>
<text class="ab8" x="2414" y="870">α</text><text class="ab8" x="2457" y="870">β</text>
<!-- M9 -->
<path class="ar" d="M1998,1487 H1898"/><path class="ar" d="M1898,1511 H1998"/>
<path class="ar" d="M2236,1487 H2136"/><path class="ar" d="M2136,1511 H2236"/>
<path class="ar" d="M2470,1487 H2370"/><path class="ar" d="M2370,1511 H2470"/>
<text class="q7" x="1950" y="1474">q<tspan class="qs7">10</tspan></text>
<text class="q7" x="1950" y="1530">q<tspan class="qs7">01</tspan></text>
<text class="q7" x="2187" y="1474">q<tspan class="qs7">21</tspan></text>
<text class="q7" x="2187" y="1530">q<tspan class="qs7">12</tspan></text>
<text class="q7" x="2425" y="1474">q<tspan class="qs7">32</tspan></text>
<text class="q7" x="2425" y="1530">q<tspan class="qs7">32</tspan></text>
<path class="ar" d="M2532,1436 C2425,1263 1931,1263 1832,1424"/>
<path class="ar" d="M1870,1434 C1955,1301 2397,1301 2501,1447"/>
<text class="q7" x="2174" y="1293">q<tspan class="qs7">40</tspan></text>
<text class="q7" x="2176" y="1356">q<tspan class="qs7">04</tspan></text>
<path class="ar" d="M1819,1572 V1708"/><path class="ar" d="M1841,1708 V1572"/>
<path class="ar" d="M2055,1572 V1708"/><path class="ar" d="M2078,1708 V1572"/>
<path class="ar" d="M2290,1572 V1708"/><path class="ar" d="M2313,1708 V1572"/>
<path class="ar" d="M2530,1572 V1708"/><path class="ar" d="M2554,1708 V1572"/>
<text class="ab9" x="1799" y="1645">α</text><text class="ab9" x="1862" y="1645">β</text>
<text class="ab9" x="2033" y="1645">α</text><text class="ab9" x="2097" y="1645">β</text>
<text class="ab9" x="2270" y="1645">α</text><text class="ab9" x="2333" y="1645">β</text>
<text class="ab9" x="2511" y="1645">α</text><text class="ab9" x="2573" y="1645">β</text>
<path class="ar" d="M1998,1768 H1898"/><path class="ar" d="M1898,1792 H1998"/>
<path class="ar" d="M2235,1768 H2134"/><path class="ar" d="M2134,1792 H2235"/>
<path class="ar" d="M2469,1768 H2369"/><path class="ar" d="M2369,1792 H2469"/>
<text class="q7" x="1948" y="1756">q<tspan class="qs7">10</tspan></text>
<text class="q7" x="1948" y="1811">q<tspan class="qs7">01</tspan></text>
<text class="q7" x="2185" y="1811">q<tspan class="qs7">12</tspan></text>
<text class="q7" x="2422" y="1756">q<tspan class="qs7">32</tspan></text>
<text class="q7" x="2422" y="1811">q<tspan class="qs7">32</tspan></text>
<path class="ar" d="M1858,1847 C1955,2014 2388,2014 2521,1857"/>
<path class="ar" d="M2554,1862 C2440,2060 1903,2060 1824,1855"/>
<text class="q7" x="2178" y="1962">q<tspan class="qs7">04</tspan></text>
<text class="q7" x="2178" y="2030">q<tspan class="qs7">40</tspan></text>
</g>
</svg>
